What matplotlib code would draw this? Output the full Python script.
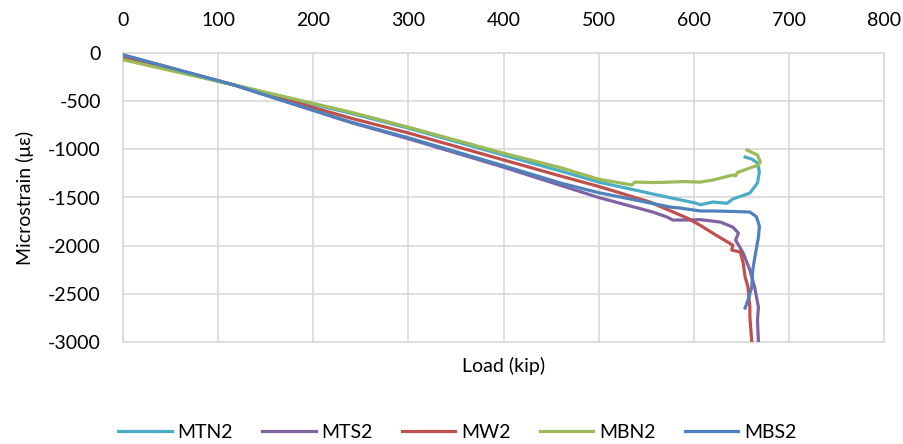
import matplotlib
matplotlib.use("Agg")
import matplotlib.pyplot as plt

plt.rcParams['font.family'] = ['Lato', 'DejaVu Sans']
plt.rcParams['axes.unicode_minus'] = False

series_names = ["MTN2", "MTS2", "MW2", "MBN2", "MBS2"]
series_colors = ["#4BACC6", "#8064A2", "#C0504D", "#9BBB59", "#4F81BD"]

mtn2_load = [0, 116, 239, 300, 400, 460, 500, 560, 602, 607, 620, 635, 641, 659, 667, 669, 667, 661, 654]
mtn2_strain = [-50, -330, -625, -780, -1060, -1225, -1340, -1470, -1558, -1575, -1547, -1560, -1516, -1454, -1350, -1236, -1142, -1101, -1080]

mts2_load = [0, 116, 239, 300, 400, 500, 557, 572, 578, 593, 607, 628, 641, 647, 644, 652, 659, 664, 668, 667, 668]
mts2_strain = [-20, -330, -720, -890, -1185, -1500, -1651, -1703, -1734, -1734, -1730, -1755, -1807, -1869, -1942, -2077, -2253, -2430, -2638, -2773, -3000]

mw2_load = [0, 116, 239, 300, 400, 460, 500, 523, 554, 593, 607, 625, 641, 640, 649, 652, 654, 657, 659, 659, 661]
mw2_strain = [-40, -330, -675, -830, -1110, -1277, -1385, -1454, -1547, -1713, -1790, -1900, -1994, -2046, -2066, -2181, -2326, -2430, -2638, -2741, -3000]

mbn2_load = [0, 116, 239, 300, 400, 460, 500, 535, 538, 560, 590, 607, 620, 641, 644, 646, 659, 668, 670, 667, 656]
mbn2_strain = [-70, -330, -613, -770, -1040, -1190, -1310, -1370, -1340, -1345, -1335, -1340, -1319, -1267, -1275, -1240, -1194, -1163, -1132, -1059, -1007]

mbs2_load = [0, 116, 239, 300, 400, 460, 500, 565, 575, 586, 607, 620, 641, 659, 666, 669, 668, 665, 662, 661, 657, 654]
mbs2_strain = [-20, -330, -716, -880, -1170, -1350, -1450, -1578, -1599, -1610, -1640, -1640, -1645, -1651, -1700, -1800, -1911, -2077, -2253, -2430, -2565, -2648]

loads = [mtn2_load, mts2_load, mw2_load, mbn2_load, mbs2_load]
strains = [mtn2_strain, mts2_strain, mw2_strain, mbn2_strain, mbs2_strain]

x_ticks = [0, 100, 200, 300, 400, 500, 600, 700, 800]
y_ticks = [0, -500, -1000, -1500, -2000, -2500, -3000]

fig = plt.figure(figsize=(9.04, 4.44), dpi=100)
ax = fig.add_axes([123/904, 1 - 342/444, (884-123)/904, (342-53)/444])

for name, color, xs, ys in zip(series_names, series_colors, loads, strains):
    ax.plot(xs, ys, color=color, lw=2.3, label=name, solid_joinstyle='round', zorder=3)

ax.set_xlim(0, 800)
ax.set_ylim(-3000, 0)
ax.set_xticks(x_ticks)
ax.set_yticks(y_ticks)
ax.xaxis.tick_top()
ax.tick_params(axis='both', length=0, labelsize=14, colors='#000000')
ax.tick_params(axis='x', pad=17)
ax.tick_params(axis='y', pad=16)
ax.grid(True, color='#d9d9d9', lw=1.2, zorder=0)
for s in ax.spines.values():
    s.set_color('#d9d9d9')
    s.set_linewidth(1.2)

ax.xaxis.set_label_position('bottom')
ax.set_xlabel("Load (kip)", fontsize=14, labelpad=11)
ax.set_ylabel("Microstrain (με)", fontsize=14, labelpad=10)

fig.legend(loc='center', bbox_to_anchor=(0.506, 0.027), ncol=5, frameon=False,
           fontsize=14, handlelength=2.75, handletextpad=0.3, columnspacing=1.5)

fig.savefig("out.png", dpi=100)
